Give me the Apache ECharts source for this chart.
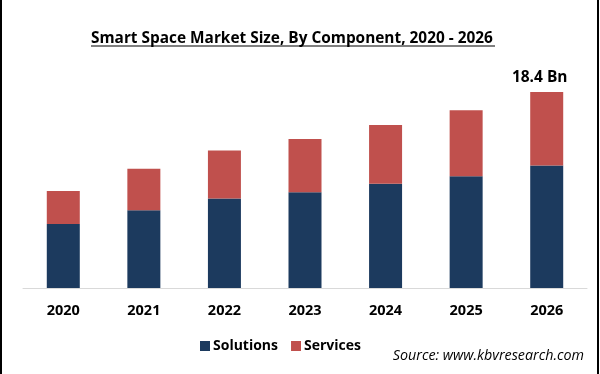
<!DOCTYPE html>
<html><head><meta charset="utf-8">
<script src="https://cdn.jsdelivr.net/npm/echarts@6/dist/echarts.min.js"></script>
<style>
html,body{margin:0;padding:0;background:#fff;}
#c{width:600px;height:374px;position:relative;}
#bl{position:absolute;left:0;top:0;width:2px;height:374px;background:#000;}
#br{position:absolute;right:1px;top:0;width:2px;height:374px;background:#000;}
</style></head>
<body>
<div id="c"></div><div id="bl"></div><div id="br"></div>
<script>
const categories = ['2020','2021','2022','2023','2024','2025','2026'];
const solutions = [6.0, 7.3, 8.4, 9.0, 9.8, 10.5, 11.5];
const services  = [3.1, 3.9, 4.5, 5.0, 5.5, 6.2, 6.9];
const lastLabel = '18.4 Bn';

const chart = echarts.init(document.getElementById('c'));
const font = 'Open Sans, sans-serif';
chart.setOption({
  animation: false,
  backgroundColor: '#fff',
  title: {
    text: 'Smart Space Market Size, By Component, 2020 - 2026',
    left: 86, top: 26,
    textStyle: { fontFamily: font, fontWeight: 'bold', fontSize: 15.4, color: '#000' }
  },
  legend: {
    data: ['Solutions', 'Services'],
    left: 195, top: 334,
    itemWidth: 10, itemHeight: 10, itemGap: 13,
    icon: 'rect',
    textStyle: { fontFamily: font, fontWeight: 'bold', fontSize: 14, color: '#000', padding: [0,0,0,-2] }
  },
  graphic: [{
    type: 'text', right: 16, top: 349,
    style: { text: 'Source: www.kbvresearch.com', font: 'italic 14.3px "Open Sans", sans-serif', fill: '#000' }
  }, {
    type: 'line', shape: { x1: 91, y1: 46, x2: 495, y2: 46 },
    style: { stroke: '#000', lineWidth: 1.2 }
  }],
  grid: { left: 23, right: 13, top: 75, bottom: 86 },
  xAxis: {
    type: 'category', data: categories,
    axisLine: { lineStyle: { color: '#d9d9d9', width: 1 } },
    axisTick: { show: false },
    axisLabel: { fontFamily: font, fontWeight: 'bold', fontSize: 14.5, color: '#000', margin: 15 }
  },
  yAxis: { type: 'value', min: 0, max: 20, show: false, splitLine: { show: false } },
  series: [{
    name: 'Solutions', type: 'bar', stack: 's', barWidth: 33,
    itemStyle: { color: '#1c3a5e' }, data: solutions
  }, {
    name: 'Services', type: 'bar', stack: 's', barWidth: 33,
    itemStyle: { color: '#c0504d' },
    data: services.map((v, i) => i === services.length - 1 ? {
      value: v,
      label: { show: true, position: 'top', distance: 6, offset: [-7, 0], formatter: lastLabel,
        fontFamily: font, fontWeight: 'bold', fontSize: 15.5, color: '#000' }
    } : v)
  }]
});
</script>
</body></html>
